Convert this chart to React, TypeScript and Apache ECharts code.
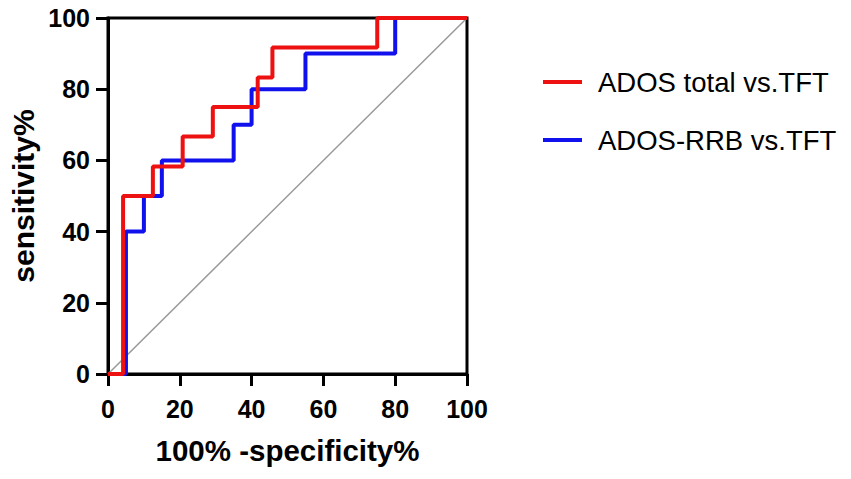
import React, { useEffect, useRef } from "react";
import * as echarts from "echarts";

const xTicks = [0, 20, 40, 60, 80, 100];
const redName = "ADOS total vs.TFT";
const blueName = "ADOS-RRB vs.TFT";
// ROC points (100% - specificity, sensitivity)
const redFpr = [0, 4.2, 12.5, 20.8, 29.2, 41.7, 45.8, 75, 100];
const redTpr = [0, 50, 58.3, 66.7, 75, 83.3, 91.7, 100, 100];
const blueFpr = [0, 5, 10, 15, 35, 40, 55, 80, 100];
const blueTpr = [0, 40, 50, 60, 70, 80, 90, 100, 100];
const diagonal = [0, 100];

const FONT = "Arial, 'Liberation Sans', Helvetica, sans-serif";

export default function App() {
  const ref = useRef<HTMLDivElement>(null);
  useEffect(() => {
    document.body.style.margin = "0";
    const chart = echarts.init(ref.current!, null, { renderer: "svg" });
    const red = redFpr.map((x, i) => [x, redTpr[i]]);
    const blue = blueFpr.map((x, i) => [x, blueTpr[i]]);
    const diag = diagonal.map((v) => [v, v]);
    chart.setOption({
      animation: false,
      backgroundColor: "#ffffff",
      grid: {
        left: 108,
        right: 384,
        top: 18,
        bottom: 105,
        show: true,
        borderColor: "#000",
        borderWidth: 3,
      },
      legend: {
        orient: "vertical",
        left: 538,
        top: 62,
        itemWidth: 39,
        itemHeight: 4,
        itemGap: 28,
        icon: "rect",
        data: [
          { name: redName, itemStyle: { color: "#ee1111" } },
          { name: blueName, itemStyle: { color: "#1111ee" } },
        ],
        textStyle: {
          fontFamily: FONT,
          fontSize: 27.5,
          color: "#000",
          lineHeight: 30,
          padding: [0, 0, 0, 11],
        },
      },
      xAxis: {
        type: "value",
        min: 0,
        max: 100,
        interval: 20,
        name: "100% -specificity%",
        nameLocation: "middle",
        nameGap: 61,
        nameTextStyle: { fontFamily: FONT, fontSize: 29.5, fontWeight: "bold", color: "#000" },
        axisLine: { lineStyle: { color: "#000", width: 3 } },
        axisTick: { length: 12, lineStyle: { color: "#000", width: 3 } },
        axisLabel: {
          margin: 22,
          fontFamily: FONT,
          fontSize: 25,
          fontWeight: "bold",
          color: "#000",
          formatter: (v: number) => (xTicks.includes(v) ? String(v) : ""),
        },
        splitLine: { show: false },
      },
      yAxis: {
        type: "value",
        min: 0,
        max: 100,
        interval: 20,
        name: "sensitivity%",
        nameLocation: "middle",
        nameGap: 70,
        nameTextStyle: { fontFamily: FONT, fontSize: 30, fontWeight: "bold", color: "#000" },
        axisLine: { lineStyle: { color: "#000", width: 3 } },
        axisTick: { length: 12, lineStyle: { color: "#000", width: 3 } },
        axisLabel: {
          margin: 18,
          fontFamily: FONT,
          fontSize: 25,
          fontWeight: "bold",
          color: "#000",
        },
        splitLine: { show: false },
      },
      series: [
        {
          type: "line",
          name: "diag",
          data: diag,
          symbol: "none",
          lineStyle: { color: "#999999", width: 1.5 },
          z: 1,
        },
        {
          type: "line",
          name: blueName,
          data: blue,
          step: "end",
          symbol: "none",
          lineStyle: { color: "#1111ee", width: 4 },
          itemStyle: { color: "#1111ee" },
          z: 2,
        },
        {
          type: "line",
          name: redName,
          data: red,
          step: "end",
          symbol: "none",
          lineStyle: { color: "#ee1111", width: 4 },
          itemStyle: { color: "#ee1111" },
          z: 3,
        },
      ],
    });
    return () => chart.dispose();
  }, []);
  return <div ref={ref} style={{ width: 851, height: 479 }} />;
}
